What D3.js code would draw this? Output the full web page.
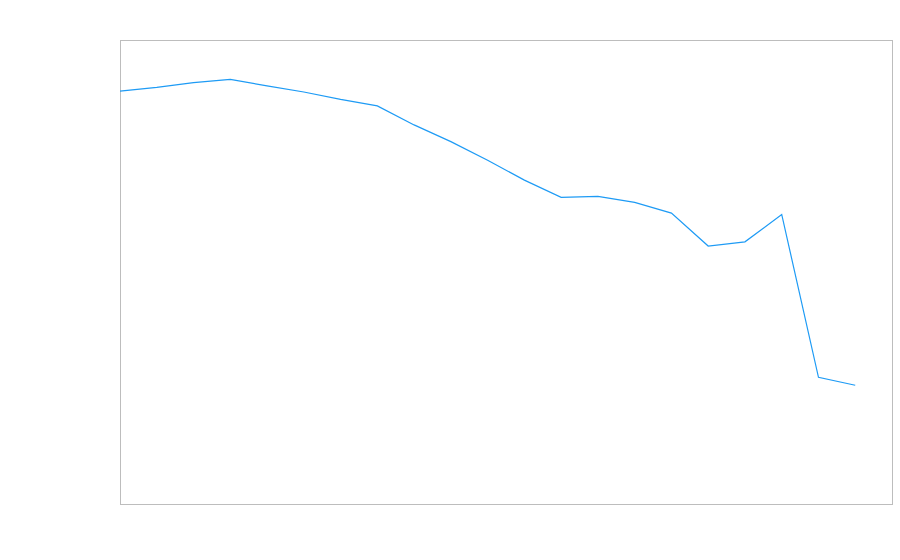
<!DOCTYPE html>
<html>
<head>
<meta charset="utf-8">
<script src="https://cdn.jsdelivr.net/npm/d3@7"></script>
<style>
  body { margin: 0; background: #fff; }
</style>
</head>
<body>
<div id="chart"></div>
<script>
// index of each point along x
const steps = d3.range(21);
// series values (0-100 scale)
const values = [89.0, 89.8, 90.8, 91.5, 90.1, 88.8, 87.2, 85.8, 81.7, 78.1, 74.1,
                69.8, 66.1, 66.3, 65.0, 62.7, 55.6, 56.5, 62.4, 27.3, 25.6];

const width = 900, height = 560;
const margin = {top: 40, right: 8, bottom: 56, left: 120};

const svg = d3.select("#chart").append("svg")
    .attr("width", width)
    .attr("height", height);

const x = d3.scaleLinear()
    .domain([0, 21])
    .range([margin.left, width - margin.right]);

const y = d3.scaleLinear()
    .domain([0, 100])
    .range([height - margin.bottom, margin.top]);

// plot frame
svg.append("rect")
    .attr("x", margin.left + 0.5)
    .attr("y", margin.top + 0.5)
    .attr("width", width - margin.left - margin.right)
    .attr("height", height - margin.top - margin.bottom)
    .attr("fill", "none")
    .attr("stroke", "#bdbdbd")
    .attr("stroke-width", 1);

const line = d3.line()
    .x((d, i) => x(steps[i]))
    .y(d => y(d));

svg.append("path")
    .datum(values)
    .attr("d", line)
    .attr("fill", "none")
    .attr("stroke", "#1e9bf5")
    .attr("stroke-width", 1.2);
</script>
</body>
</html>
